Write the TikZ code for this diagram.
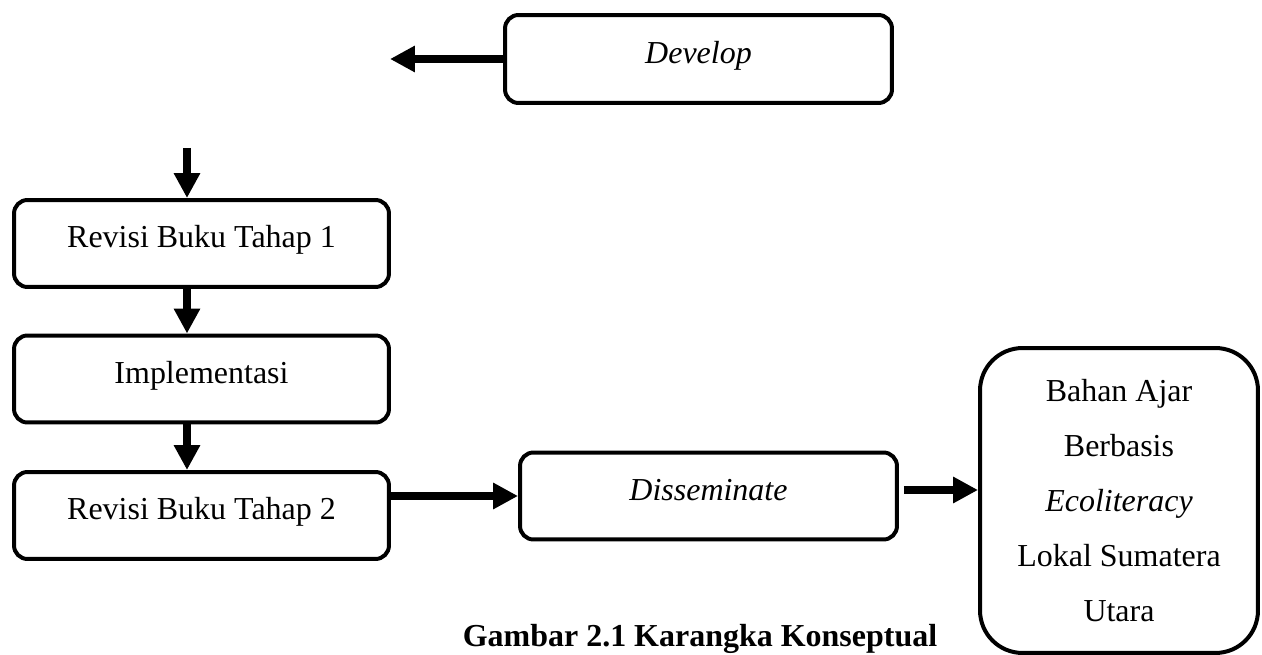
\documentclass[tikz,border=0pt]{standalone}
\usepackage{fontspec}
\setmainfont{Liberation Serif}
\usetikzlibrary{arrows.meta,positioning}

\begin{document}
\begin{tikzpicture}[x=0.02cm, y=-0.02cm,
    box/.style={draw, line width=0.08cm, rounded corners=0.27cm, minimum width=7.5cm, minimum height=1.74cm,
        text height=0.45cm, text depth=0.27cm, font=\fontsize{18.2}{22}\selectfont},
    arr/.style={line width=0.17cm, -{Triangle[length=0.5cm, width=0.5cm]}}]
    \useasboundingbox (0,0) rectangle (1262,655);

    \node[box, minimum width=7.74cm, minimum height=1.76cm] at (698.5, 59)(develop) {\textit{Develop}};
    \node[box] at (201.5, 243.5)(revsatu) {Revisi Buku Tahap 1};
    \node[box] at (201.5, 379)(impl) {Implementasi};
    \node[box] at (201.5, 515.5)(revdua) {Revisi Buku Tahap 2};
    \node[box, minimum width=7.54cm] at (708.5, 496)(dissem) {\textit{Disseminate}};
    \node[draw, line width=0.08cm, rounded corners=0.85cm, minimum width=5.56cm, minimum height=6.1cm,
        align=center, font=\fontsize{18.2}{31.3}\selectfont] at (1119, 500.5)(bahan)
        {Bahan Ajar\\Berbasis\\\textit{Ecoliteracy}\\Lokal Sumatera\\Utara};
    \node[anchor=base, font=\bfseries\fontsize{18.2}{22}\selectfont] at (700, 646)(judul) {Gambar 2.1 Karangka Konseptual};

    \coordinate (kiri) at (390, 59);
    \coordinate (atas) at (187, 148);

    \draw[arr] (develop) -- (kiri);
    \draw[arr] (atas) -- (atas |- revsatu.north);
    \draw[arr] (revsatu.south -| atas) -- (impl.north -| atas);
    \draw[arr] (impl.south -| atas) -- (revdua.north -| atas);
    \draw[arr] (revdua.east |- dissem.west) -- (dissem.west);
    \draw[arr] ([xshift=0.1cm, yshift=0.12cm]dissem.east) -- ([yshift=0.12cm]dissem.east -| bahan.west);

\end{tikzpicture}
\end{document}
